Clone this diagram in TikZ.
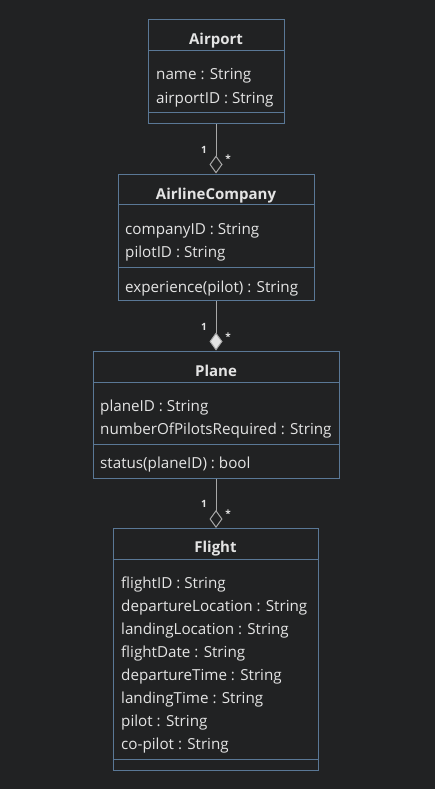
\documentclass[tikz,border=0pt]{standalone}
\usepackage{fontspec}
\setmainfont{Open Sans}
\usetikzlibrary{arrows.meta}
\definecolor{bgc}{HTML}{212223}
\definecolor{boxline}{HTML}{5A7896}
\definecolor{txt}{HTML}{E4E4E4}
\definecolor{conn}{HTML}{A8A8A8}
\tikzset{
  umlbox/.style={draw=boxline, line width=1pt, fill=bgc, inner sep=0pt, rectangle},
  sep/.style={draw=boxline, line width=1pt},
  attr/.style={text=txt, font=\fontsize{15.2}{17}\selectfont, anchor=base west, inner sep=0pt},
  ttl/.style={text=txt, font=\fontsize{15}{17}\selectfont\bfseries, anchor=base, inner sep=0pt},
  mult/.style={text=txt, font=\fontsize{10}{11}\selectfont\bfseries, inner sep=0pt},
  aggr/.style={draw=conn, line width=1pt, -{Diamond[open, fill=bgc, length=18pt, width=13pt]}},
  comp/.style={draw=conn, line width=1pt, -{Diamond[fill=txt, length=18pt, width=13pt]}}
}
\begin{document}
\begin{tikzpicture}[x=1pt,y=-1pt]
\fill[bgc] (0,0) rectangle (435,789);
\useasboundingbox (0,0) rectangle (435,789);
% Airport
\node[umlbox, minimum width=136pt, minimum height=104pt] (airport) at (216,72) {};
\draw[sep] (148,51) -- (284,51);
\draw[sep] (148,113) -- (284,113);
\node[ttl] (airportT) at (216,45) {Airport};
\node[attr] (airportA1) at (156,80) {name : String};
\node[attr] (airportA2) at (156,103) {airportID : String};
% AirlineCompany
\node[umlbox, minimum width=196pt, minimum height=126pt] (ac) at (216,237) {};
\draw[sep] (118,204) -- (314,204);
\draw[sep] (118,267) -- (314,267);
\node[ttl] (acT) at (216,199) {AirlineCompany};
\node[attr] (acA1) at (125,234) {companyID : String};
\node[attr] (acA2) at (125,257) {pilotID : String};
\node[attr] (acM1) at (125,292) {experience(pilot) : String};
% Plane
\node[umlbox, minimum width=246pt, minimum height=127pt] (plane) at (216,414.5) {};
\draw[sep] (93,382) -- (339,382);
\draw[sep] (93,444) -- (339,444);
\node[ttl] (planeT) at (216,376) {Plane};
\node[attr] (planeA1) at (100,411) {planeID : String};
\node[attr] (planeA2) at (100,434) {numberOfPilotsRequired : String};
\node[attr] (planeM1) at (100,468) {status(planeID) : bool};
% Flight
\node[umlbox, minimum width=205pt, minimum height=242pt] (flight) at (215.5,649) {};
\draw[sep] (113,559) -- (318,559);
\draw[sep] (113,759) -- (318,759);
\node[ttl] (flightT) at (215.5,552) {Flight};
\node[attr] (fA1) at (121,588) {flightID : String};
\node[attr] (fA2) at (121,611) {departureLocation : String};
\node[attr] (fA3) at (121,634) {landingLocation : String};
\node[attr] (fA4) at (121,657) {flightDate : String};
\node[attr] (fA5) at (121,680) {departureTime : String};
\node[attr] (fA6) at (121,703) {landingTime : String};
\node[attr] (fA7) at (121,726) {pilot : String};
\node[attr] (fA8) at (121,749) {co-pilot : String};
% connectors
\draw[aggr] (airport.south) -- (ac.north);
\draw[comp] (ac.south) -- (plane.north);
\draw[aggr] (plane.south) -- (216,528);
\node[mult] (m1a) at (204,150) {1};
\node[mult] (m1b) at (228,159) {*};
\node[mult] (m2a) at (204,327) {1};
\node[mult] (m2b) at (228,337) {*};
\node[mult] (m3a) at (204,504) {1};
\node[mult] (m3b) at (228,514) {*};
\end{tikzpicture}
\end{document}
